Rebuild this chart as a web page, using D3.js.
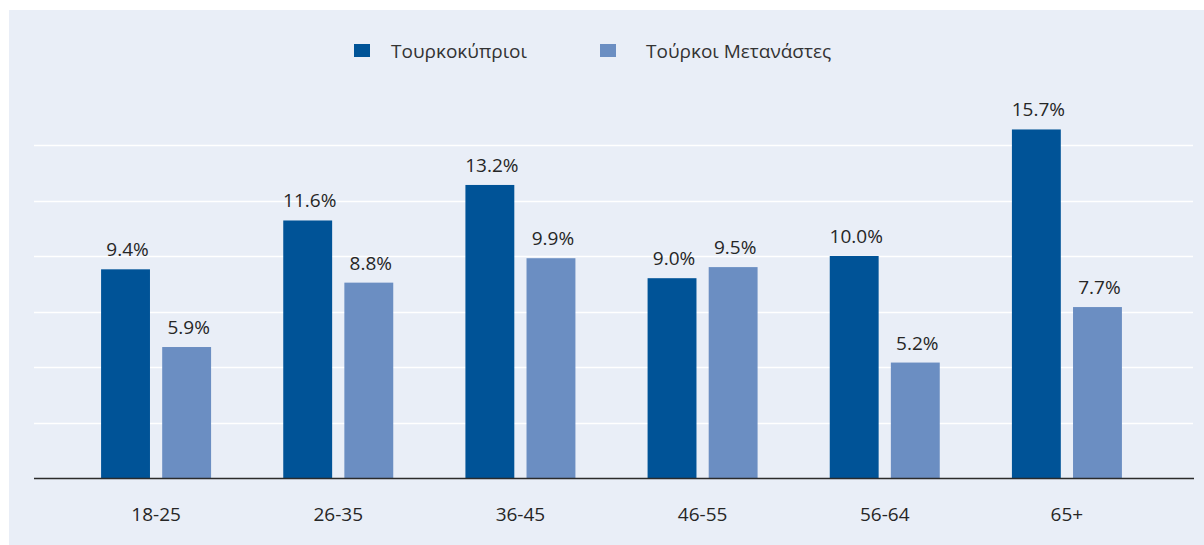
<!DOCTYPE html>
<html>
<head>
<meta charset="utf-8">
<script src="https://cdn.jsdelivr.net/npm/d3@7"></script>
<style>
  html, body { margin: 0; padding: 0; background: #fff; }
  svg { display: block; }
  text { font-family: 'Open Sans', 'Noto Sans', sans-serif; }
</style>
</head>
<body>
<svg id="chart"></svg>
<script>
const width = 1204
const height = 545

// data
const categories = ['18-25', '26-35', '36-45', '46-55', '56-64', '65+']
const seriesNames = ['Τουρκοκύπριοι', 'Τούρκοι Μετανάστες']
const turkishCypriots = [9.4, 11.6, 13.2, 9.0, 10.0, 15.7]
const turkishMigrants = [5.9, 8.8, 9.9, 9.5, 5.2, 7.7]
const gridTicks = [2.5, 5, 7.5, 10, 12.5, 15]

const colors = ['#005397', '#6b8ec2']
const seriesValues = [turkishCypriots, turkishMigrants]

const svg = d3.select('#chart').attr('width', width).attr('height', height)

// panel background
svg.append('rect')
  .attr('x', 9).attr('y', 10)
  .attr('width', width - 9).attr('height', height - 10)
  .attr('fill', '#e9eef7')

const baseY = 478
const x0 = d3.scaleBand().domain(categories).range([65, 1158]).paddingInner(0)
const groupW = 110
const x1 = d3.scaleBand().domain(seriesNames).range([0, groupW]).paddingInner(0.2)
const y = d3.scaleLinear().domain([0, 16]).range([baseY, baseY - 22.2 * 16])

// gridlines
svg.append('g')
  .selectAll('line')
  .data(gridTicks)
  .join('line')
  .attr('x1', 34).attr('x2', 1193)
  .attr('y1', (d) => Math.round(y(d)) + 0.5)
  .attr('y2', (d) => Math.round(y(d)) + 0.5)
  .attr('stroke', '#ffffff')
  .attr('stroke-width', 1.5)

const rows = categories.map((cat, i) => ({
  cat,
  vals: seriesNames.map((name, s) => ({ name, s, v: seriesValues[s][i] })),
}))

const groups = svg.append('g')
  .selectAll('g')
  .data(rows)
  .join('g')
  .attr('transform', (d) => `translate(${x0(d.cat) + (x0.bandwidth() - groupW) / 2},0)`)

groups.selectAll('rect')
  .data((d) => d.vals)
  .join('rect')
  .attr('x', (d) => x1(d.name))
  .attr('y', (d) => y(d.v))
  .attr('width', x1.bandwidth())
  .attr('height', (d) => baseY - y(d.v))
  .attr('fill', (d) => colors[d.s])

groups.selectAll('text')
  .data((d) => d.vals)
  .join('text')
  .attr('x', (d) => x1(d.name) + x1.bandwidth() / 2 + 2)
  .attr('y', (d) => y(d.v) - 13)
  .attr('text-anchor', 'middle')
  .attr('font-size', 19)
  .attr('fill', '#262626')
  .text((d) => d.v.toFixed(1) + '%')

// x axis baseline + labels
const xAxis = d3.axisBottom(x0).tickSize(0).tickPadding(30)
const axisG = svg.append('g').attr('transform', `translate(0,${baseY})`).call(xAxis)
axisG.select('.domain').remove()
axisG.selectAll('text')
  .attr('font-size', 19)
  .attr('font-family', "'Open Sans', 'Noto Sans', sans-serif")
  .attr('fill', '#262626')
svg.append('line')
  .attr('x1', 34).attr('x2', 1194)
  .attr('y1', baseY + 0.5).attr('y2', baseY + 0.5)
  .attr('stroke', '#2b2b2b')
  .attr('stroke-width', 1.6)

// legend
const legendX = [354, 600]
const legendTextDx = [37, 46]
const legend = svg.append('g')
  .selectAll('g')
  .data(seriesNames)
  .join('g')
  .attr('transform', (d, i) => `translate(${legendX[i]},44)`)
legend.append('rect')
  .attr('width', 16).attr('height', 13)
  .attr('fill', (d, i) => colors[i])
legend.append('text')
  .attr('x', (d, i) => legendTextDx[i]).attr('y', 14)
  .attr('font-size', 19)
  .attr('fill', '#333')
  .text((d) => d)
</script>
</body>
</html>
